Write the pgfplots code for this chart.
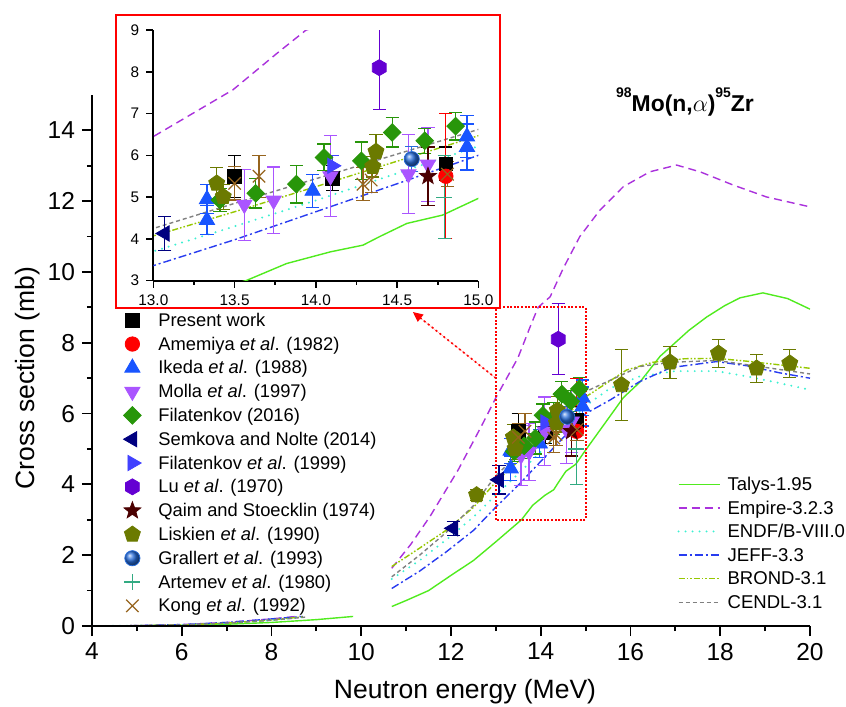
\documentclass[border=0pt]{standalone}
\usepackage{fontspec}
\setmainfont{Liberation Sans}
\usepackage{pgfplots}
\pgfplotsset{compat=1.18}
\usepackage{pgfplotstable}
\usetikzlibrary{plotmarks,arrows.meta}

\definecolor{cAmemiya}{RGB}{255,0,0}
\definecolor{cIkeda}{RGB}{25,85,255}
\definecolor{cMolla}{RGB}{170,85,255}
\definecolor{cFilA}{RGB}{40,150,10}
\definecolor{cSemkova}{RGB}{0,0,128}
\definecolor{cFilB}{RGB}{65,65,255}
\definecolor{cLu}{RGB}{100,0,210}
\definecolor{cQaim}{RGB}{75,0,0}
\definecolor{cLiskien}{RGB}{107,122,0}
\definecolor{cGrallert}{RGB}{40,110,220}
\definecolor{cArtemev}{RGB}{50,170,130}
\definecolor{cKong}{RGB}{150,100,30}
\definecolor{cTalys}{RGB}{80,235,30}
\definecolor{cEmpire}{RGB}{170,50,220}
\definecolor{cEndf}{RGB}{60,240,210}
\definecolor{cJeff}{RGB}{40,60,240}
\definecolor{cBrond}{RGB}{150,200,0}
\definecolor{cCendl}{RGB}{128,128,128}

\pgfdeclareplotmark{hexagon*}{%
 \pgfpathmoveto{\pgfpointpolar{90}{\pgfplotmarksize}}%
 \pgfpathlineto{\pgfpointpolar{150}{\pgfplotmarksize}}%
 \pgfpathlineto{\pgfpointpolar{210}{\pgfplotmarksize}}%
 \pgfpathlineto{\pgfpointpolar{270}{\pgfplotmarksize}}%
 \pgfpathlineto{\pgfpointpolar{330}{\pgfplotmarksize}}%
 \pgfpathlineto{\pgfpointpolar{30}{\pgfplotmarksize}}%
 \pgfpathclose\pgfusepathqfillstroke}
\pgfdeclareplotmark{fstar}{%
 \pgfpathmoveto{\pgfpointpolar{90}{\pgfplotmarksize}}%
 \pgfpathlineto{\pgfpointpolar{126}{0.42\pgfplotmarksize}}%
 \pgfpathlineto{\pgfpointpolar{162}{\pgfplotmarksize}}%
 \pgfpathlineto{\pgfpointpolar{198}{0.42\pgfplotmarksize}}%
 \pgfpathlineto{\pgfpointpolar{234}{\pgfplotmarksize}}%
 \pgfpathlineto{\pgfpointpolar{270}{0.42\pgfplotmarksize}}%
 \pgfpathlineto{\pgfpointpolar{306}{\pgfplotmarksize}}%
 \pgfpathlineto{\pgfpointpolar{342}{0.42\pgfplotmarksize}}%
 \pgfpathlineto{\pgfpointpolar{18}{\pgfplotmarksize}}%
 \pgfpathlineto{\pgfpointpolar{54}{0.42\pgfplotmarksize}}%
 \pgfpathclose\pgfusepathqfillstroke}
\pgfdeclareplotmark{sqdiamond*}{%
 \pgfpathmoveto{\pgfqpoint{0pt}{\pgfplotmarksize}}%
 \pgfpathlineto{\pgfqpoint{\pgfplotmarksize}{0pt}}%
 \pgfpathlineto{\pgfqpoint{0pt}{-\pgfplotmarksize}}%
 \pgfpathlineto{\pgfqpoint{-\pgfplotmarksize}{0pt}}%
 \pgfpathclose\pgfusepathqfillstroke}

% ---------- experimental data ----------
\pgfplotstableread{
x y e
13.50 5.50 0.50
14.10 5.45 0.30
14.80 5.80 0.40
}\tPresent
\pgfplotstableread{
x y e
14.80 5.50 1.50
}\tAmemiya
\pgfplotstableread{
x y e
13.33 4.95 0.35
13.33 4.45 0.35
13.98 5.15 0.40
14.93 6.45 0.50
14.93 6.20 0.55
}\tIkeda
\pgfplotstableread{
x y e
13.56 4.82 0.85
13.74 4.92 0.80
14.09 5.50 0.97
14.57 5.55 0.95
14.69 5.78 0.88
}\tMolla
\pgfplotstableread{
x y e
13.41 4.93 0.28
13.63 5.09 0.35
13.88 5.31 0.45
14.05 5.95 0.32
14.28 5.87 0.45
14.47 6.55 0.35
14.67 6.35 0.30
14.86 6.70 0.33
}\tFilA
\pgfplotstableread{
x y e
12.05 2.76 0.20
13.07 4.13 0.40
}\tSemkova
\pgfplotstableread{
x y e
14.10 5.75 0.25
}\tFilB
\pgfplotstableread{
x y e
14.39 8.10 1.00
}\tLu
\pgfplotstableread{
x y e
14.69 5.50 0.70
}\tQaim
\pgfplotstableread{
x y e
12.57 3.70 0.15
13.39 5.33 0.37
13.43 5.01 0.30
14.35 5.73 0.25
14.37 6.09 0.40
15.80 6.81 1.00
16.88 7.45 0.45
17.96 7.70 0.40
18.81 7.28 0.40
19.55 7.42 0.40
}\tLiskien
\pgfplotstableread{
x y e
14.59 5.91 0.30
}\tGrallert
\pgfplotstableread{
x y e
14.79 5.00 1.00
}\tArtemev
\pgfplotstableread{
x y e
13.50 5.33 0.40
13.65 5.50 0.50
14.29 5.31 0.40
14.34 5.41 0.30
14.81 5.55 0.30
}\tKong

% ---------- evaluated / calculated curves ----------
\pgfplotstableread{
x y
4 0
5 0.005
6 0.02
7 0.05
8 0.10
9 0.18
9.82 0.27
9.9 nan
10.68 0.55
11.0 0.72
11.5 1.00
12.0 1.43
12.5 1.85
13.0 2.38
13.57 3.00
13.82 3.41
14.09 3.69
14.29 3.85
14.39 4.05
14.56 4.37
14.78 4.57
15.0 4.97
15.5 5.85
15.84 6.45
16.21 6.89
16.66 7.62
16.95 7.95
17.3 8.35
17.7 8.73
18.1 9.05
18.44 9.27
18.95 9.41
19.5 9.25
20 8.95
}\cTalys
\pgfplotstableread{
x y
4 0
5 0.01
6 0.04
7 0.10
8 0.20
8.64 0.28
9.0 nan
10.68 1.63
11.1 2.30
11.53 3.09
12.16 4.41
12.68 5.65
13.0 6.45
13.49 7.57
13.76 8.44
13.94 9.00
14.21 9.30
14.5 10.10
14.87 11.00
15.32 11.75
15.84 12.41
16.43 12.83
17.03 13.02
17.55 12.83
18.28 12.46
19.03 12.12
20 11.84
}\cEmpire
\pgfplotstableread{
x y
4 0
5 0.01
6 0.03
7 0.08
8 0.17
8.7 0.25
9.0 nan
10.68 1.33
11.3 1.85
11.98 2.52
12.5 3.08
13.0 3.70
13.5 4.30
14.0 4.92
14.5 5.57
15.0 6.22
15.54 6.71
16.2 7.05
17.0 7.20
17.92 7.20
18.6 7.05
19.33 6.86
20 6.67
}\cEndf
\pgfplotstableread{
x y
4 0
5 0.01
6 0.04
7 0.10
8 0.20
8.7 0.27
9.0 nan
10.68 1.06
11.3 1.55
11.9 2.10
12.5 2.70
13.0 3.36
13.5 3.98
14.0 4.65
14.5 5.32
15.0 6.00
15.54 6.38
16.2 6.90
16.9 7.30
17.92 7.47
18.6 7.35
19.33 7.15
20 7.00
}\cJeff
\pgfplotstableread{
x y
4 0
5 0.01
6 0.03
7 0.08
8 0.17
8.7 0.26
9.0 nan
10.68 1.68
11.3 2.20
11.9 2.71
12.5 3.35
13.0 4.07
13.5 4.65
14.0 5.25
14.5 5.86
15.0 6.47
15.91 7.23
16.5 7.45
17.2 7.55
17.92 7.56
18.6 7.48
19.3 7.38
20 7.28
}\cBrond
\pgfplotstableread{
x y
4 0
5 0.01
6 0.03
7 0.08
8 0.16
8.75 0.25
9.0 nan
10.68 1.39
11.3 2.00
11.9 2.65
12.5 3.40
13.0 4.25
13.5 4.85
14.0 5.44
14.5 6.03
15.0 6.62
16.21 7.33
16.9 7.45
17.92 7.50
18.6 7.38
19.3 7.25
20 7.12
}\cCendl

\pgfplotsset{
  eb/.style={only marks,
    /pgfplots/error bars/y dir=both,
    /pgfplots/error bars/y explicit,
    /pgfplots/error bars/error bar style={line width=0.6bp},
    /pgfplots/error bars/error mark options={rotate=90, mark size=3.3bp, line width=0.6bp}},
}

\newcommand{\curves}{%
  \addplot[color=cTalys, line width=0.7bp] table[x=x,y=y]{\cTalys};
  \addplot[color=cEmpire, line width=0.7bp, dash pattern=on 4bp off 2.5bp] table[x=x,y=y]{\cEmpire};
  \addplot[color=cEndf, line width=1.1bp, line cap=round, dash pattern=on 0pt off 3.5bp] table[x=x,y=y]{\cEndf};
  \addplot[color=cJeff, line width=0.7bp, dash pattern=on 4bp off 1.5bp on 1bp off 1.5bp] table[x=x,y=y]{\cJeff};
  \addplot[color=cBrond, line width=0.7bp, dash pattern=on 3bp off 1bp on 0.8bp off 1bp on 0.8bp off 1bp] table[x=x,y=y]{\cBrond};
  \addplot[color=cCendl, line width=0.7bp, dash pattern=on 2bp off 1.5bp] table[x=x,y=y]{\cCendl};
}
\newcommand{\points}{%
  \addplot[eb, color=black, mark=square*, mark size=3.4bp] table[x=x,y=y,y error=e]{\tPresent};
  \addplot[eb, color=cAmemiya, mark=*, mark size=3.6bp] table[x=x,y=y,y error=e]{\tAmemiya};
  \addplot[eb, color=cIkeda, mark=triangle*, mark size=4.4bp] table[x=x,y=y,y error=e]{\tIkeda};
  \addplot[eb, color=cMolla, mark=triangle*, mark size=4.4bp, mark options={rotate=180}] table[x=x,y=y,y error=e]{\tMolla};
  \addplot[eb, color=cFilA, mark=sqdiamond*, mark size=4.4bp] table[x=x,y=y,y error=e]{\tFilA};
  \addplot[eb, color=cSemkova, mark=triangle*, mark size=4.4bp, mark options={rotate=90}] table[x=x,y=y,y error=e]{\tSemkova};
  \addplot[eb, color=cFilB, mark=triangle*, mark size=4.4bp, mark options={rotate=-90}] table[x=x,y=y,y error=e]{\tFilB};
  \addplot[eb, color=cLu, mark=hexagon*, mark size=4bp] table[x=x,y=y,y error=e]{\tLu};
  \addplot[eb, color=cQaim, mark=fstar, mark size=4.4bp] table[x=x,y=y,y error=e]{\tQaim};
  \addplot[eb, color=cLiskien, mark=pentagon*, mark size=4.2bp] table[x=x,y=y,y error=e]{\tLiskien};
  \addplot[eb, color=cGrallert, mark=ball, mark size=3.8bp, mark options={ball color=cGrallert}] table[x=x,y=y,y error=e]{\tGrallert};
  \addplot[eb, color=cArtemev, mark=+, mark size=4bp, mark options={line width=0.6bp}] table[x=x,y=y,y error=e]{\tArtemev};
  \addplot[eb, color=cKong, mark=x, mark size=4.4bp, mark options={line width=0.6bp}] table[x=x,y=y,y error=e]{\tKong};
}

\pgfplotsset{
  mainframe/.style={
    at={(0bp,0bp)}, anchor=south west,
    scale only axis, width=359bp, height=265.5bp,
    xmin=4, xmax=20, ymin=0, ymax=15,
    unbounded coords=jump,
  }
}

\begin{document}
\begin{tikzpicture}
% ---- curves (hidden axis, right legend) ----
\begin{axis}[mainframe, hide axis,
  legend image code/.code={\draw[#1] (0bp,0bp) -- (20.5bp,0bp);},
  legend cell align=left,
  legend style={at={(axis description cs:0.8148,0.290)}, anchor=north west,
    draw=none, fill=none, inner sep=0pt, row sep=0pt,
    font=\fontsize{9.3}{11}\selectfont,
    nodes={inner sep=0pt, text height=9bp, text depth=2.8bp},
    /tikz/every odd column/.style={column sep=3.5bp}},
  legend entries={Talys-1.95, Empire-3.2.3, ENDF/B-VIII.0, JEFF-3.3, BROND-3.1, CENDL-3.1},
]
\curves
\end{axis}
% ---- markers and visible axes (left legend) ----
\begin{axis}[mainframe,
  axis lines=left, axis line style={-, line width=1bp},
  tick align=outside,
  xtick={4,6,...,20}, ytick={0,2,...,14},
  minor x tick num=1, minor y tick num=1,
  major tick length=5bp, minor tick length=2.5bp,
  tick style={black, line width=0.9bp},
  tick label style={font=\fontsize{12.3}{14}\selectfont},
  /pgf/number format/assume math mode=true,
  xlabel={Neutron energy (MeV)}, ylabel={Cross section (mb)},
  label style={font=\fontsize{13.3}{16}\selectfont},
  xlabel style={at={(axis description cs:0.5195,-0.124)}, anchor=center},
  ylabel style={at={(axis description cs:-0.089,0.467)}, anchor=center},
  legend image code/.code={\path[draw=none,fill=none] (-6.5bp,-4.5bp) rectangle (6.5bp,4.5bp); \draw[#1] plot coordinates {(0bp,0bp)};},
  legend cell align=left,
  legend style={at={(axis description cs:0.0376,0.599)}, anchor=north west,
    draw=none, fill=none, inner sep=0pt, row sep=0pt,
    font=\fontsize{9.2}{11}\selectfont,
    nodes={inner sep=0pt, text height=9bp, text depth=2.9bp},
    /tikz/every odd column/.style={column sep=6.5bp}},
  legend entries={Present work, {Amemiya \textit{et al}. (1982)}, {Ikeda \textit{et al}. (1988)},
    {Molla \textit{et al}. (1997)}, Filatenkov (2016), Semkova and Nolte (2014),
    {Filatenkov \textit{et al}. (1999)}, {Lu \textit{et al}. (1970)}, Qaim and Stoecklin (1974),
    {Liskien \textit{et al}. (1990)}, {Grallert \textit{et al}. (1993)}, {Artemev \textit{et al}. (1980)},
    {Kong \textit{et al}. (1992)}},
]
\points
\draw[draw=red, line width=0.9bp, dash pattern=on 1bp off 0.8bp] (axis cs:13,3) rectangle (axis cs:15,9);
\draw[draw=red, fill=red, line width=0.8bp, dash pattern=on 1bp off 1.5bp, -{Triangle[length=5bp,width=4.5bp]}] (axis cs:13,7) -- (axis cs:11.15,8.87);
\end{axis}
% ---- title ----
\node[anchor=base, font=\bfseries\fontsize{11.5}{13}\selectfont] at (296.5bp,257bp)
  {\raisebox{7bp}{\fontsize{7}{8}\selectfont 98}Mo(n,$\alpha$)\raisebox{7bp}{\fontsize{7}{8}\selectfont 95}Zr};
% ---- inset ----
\fill[white] (12bp,159bp) rectangle (204bp,305.5bp);
\draw[red, line width=1bp] (12bp,159bp) rectangle (204bp,305.5bp);
\begin{axis}[at={(30.67bp,172.67bp)}, anchor=south west,
  scale only axis, width=162.5bp, height=125.3bp,
  xmin=13, xmax=15, ymin=3, ymax=9,
  unbounded coords=jump,
  axis lines=left, axis line style={-, line width=0.9bp},
  tick align=outside,
  xtick={13,13.5,14,14.5,15}, ytick={3,4,5,6,7,8,9},
  minor x tick num=1,
  major tick length=3.6bp, minor tick length=2bp,
  tick style={black, line width=0.8bp},
  tick label style={font=\fontsize{7.7}{9}\selectfont},
  xticklabel style={/pgf/number format/.cd, fixed, fixed zerofill, precision=1, /tikz/.cd},
  /pgf/number format/assume math mode=true,
]
\curves
\points
\end{axis}
\pgfresetboundingbox
\path[use as bounding box] (-46bp,-40.5bp) rectangle (377bp,313bp);
\end{tikzpicture}
\end{document}
